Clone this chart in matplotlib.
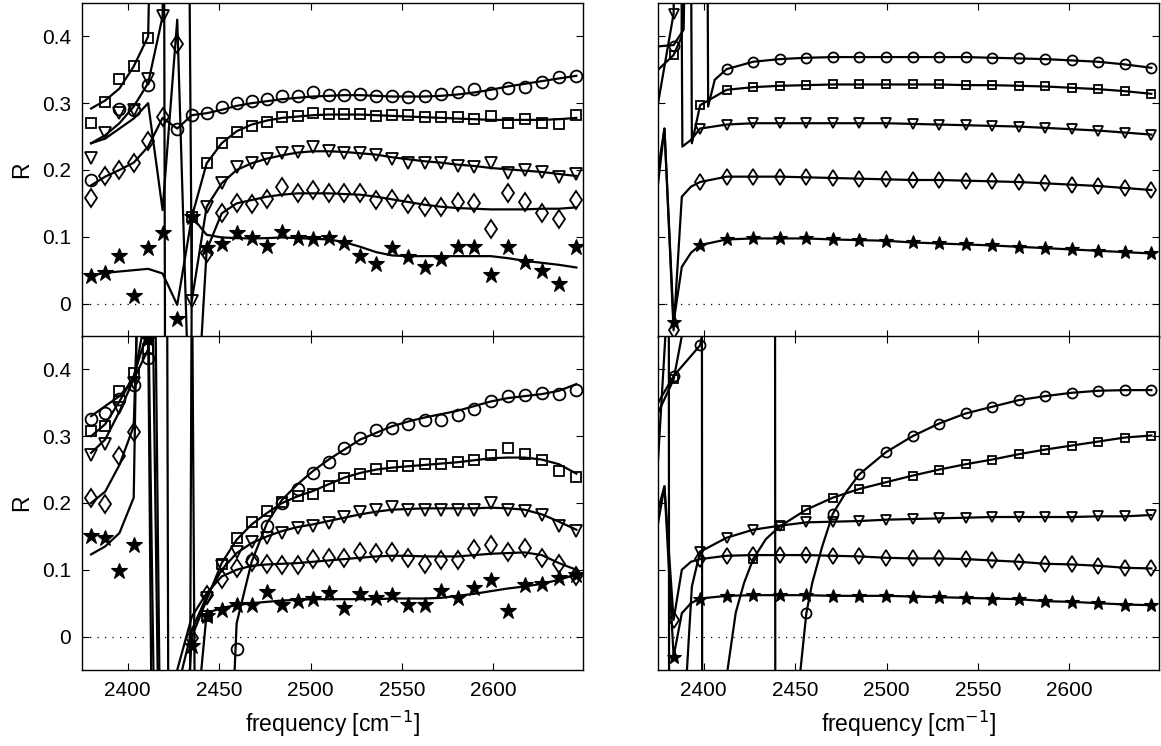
import numpy as np
import matplotlib
matplotlib.use("Agg")
import matplotlib.pyplot as plt

plt.rcParams['font.family'] = ['Liberation Sans', 'DejaVu Sans']
plt.rcParams['font.size'] = 15

nan = np.nan

# ---- left column: measured points (uniform in wavelength) and fitted lines ----
x_left = [2380.0, 2387.7, 2395.5, 2403.3, 2411.2, 2419.1, 2427.1, 2435.1, 2443.2, 2451.4,
          2459.6, 2467.8, 2476.2, 2484.5, 2492.9, 2501.4, 2509.9, 2518.5, 2527.2, 2535.9,
          2544.7, 2553.5, 2562.4, 2571.4, 2580.4, 2589.5, 2598.6, 2607.9, 2617.1, 2626.5,
          2635.9, 2645.4]

# top-left, markers
tl_circ = [0.185, nan, 0.292, 0.29, 0.327, nan, 0.261, 0.283, 0.286, 0.295, 0.301, 0.304, 0.306,
           0.31, 0.311, 0.317, 0.312, 0.312, 0.313, 0.31, 0.31, 0.309, 0.31, 0.313, 0.316, 0.321,
           0.315, 0.322, 0.324, 0.332, 0.339, 0.341]
tl_squa = [0.27, 0.302, 0.336, 0.356, 0.398, nan, nan, 0.129, 0.211, 0.241, 0.257, 0.266, 0.272,
           0.28, 0.281, 0.286, 0.284, 0.284, 0.284, 0.281, 0.283, 0.282, 0.28, 0.28, 0.279, 0.276,
           0.281, 0.27, 0.276, 0.271, 0.269, 0.282]
tl_tria = [0.218, 0.256, 0.285, 0.29, 0.336, 0.43, nan, 0.0035, 0.145, 0.18, 0.205, 0.21, 0.217,
           0.226, 0.227, 0.235, 0.229, 0.226, 0.226, 0.222, 0.216, 0.211, 0.211, 0.21, 0.206,
           0.204, 0.211, 0.196, 0.2, 0.197, 0.189, 0.194]
tl_diam = [0.158, 0.191, 0.20, 0.21, 0.243, 0.279, 0.388, nan, 0.075, 0.135, 0.15, 0.149, 0.156,
           0.175, 0.165, 0.17, 0.166, 0.166, 0.165, 0.155, 0.156, 0.149, 0.145, 0.144, 0.152,
           0.15, 0.111, 0.166, 0.152, 0.135, 0.126, 0.155]
tl_star = [0.041, 0.046, 0.0715, 0.0115, 0.0825, 0.106, -0.0235, 0.129, 0.0825, 0.089, 0.106,
           0.0975, 0.086, 0.107, 0.0975, 0.096, 0.0975, 0.091, 0.071, 0.059, 0.0835, 0.07, 0.055,
           0.066, 0.085, 0.085, 0.0435, 0.085, 0.0625, 0.049, 0.03, 0.085]

# top-left, fitted lines
tl_circ_fit = [0.177, 0.19, 0.20, 0.211, 0.235, 0.278, 0.262, 0.282, 0.285, 0.29, 0.296, 0.300,
               0.303, 0.306, 0.308, 0.310, 0.311, 0.312, 0.312, 0.311, 0.310, 0.310, 0.310, 0.311,
               0.313, 0.316, 0.320, 0.325, 0.329, 0.333, 0.337, 0.341]
tl_squa_fit = [0.292, 0.304, 0.322, 0.355, 0.40, 1.5, -8.0, 0.13, 0.21, 0.24, 0.258, 0.268, 0.274,
               0.278, 0.280, 0.282, 0.283, 0.283, 0.283, 0.282, 0.281, 0.280, 0.279, 0.278, 0.277,
               0.276, 0.275, 0.275, 0.275, 0.275, 0.276, 0.278]
tl_tria_fit = [0.24, 0.252, 0.27, 0.295, 0.33, 0.43, 3.0, 0.005, 0.145, 0.18, 0.20, 0.21, 0.217,
               0.222, 0.226, 0.228, 0.228, 0.227, 0.225, 0.223, 0.219, 0.216, 0.213, 0.211, 0.208,
               0.206, 0.203, 0.201, 0.199, 0.197, 0.194, 0.191]
tl_diam_fit = [0.24, 0.247, 0.262, 0.277, 0.30, 0.14, 0.425, -0.3, 0.08, 0.135, 0.15, 0.155, 0.16,
               0.163, 0.165, 0.165, 0.165, 0.164, 0.163, 0.16, 0.156, 0.152, 0.148, 0.145, 0.143,
               0.142, 0.141, 0.141, 0.141, 0.142, 0.142, 0.144]
tl_star_fit = [0.042, 0.046, 0.048, 0.050, 0.052, 0.045, -0.002, 0.13, 0.103, 0.099, 0.098, 0.0975,
               0.098, 0.099, 0.098, 0.097, 0.096, 0.092, 0.085, 0.077, 0.072, 0.071, 0.071, 0.071,
               0.071, 0.071, 0.071, 0.068, 0.064, 0.061, 0.058, 0.054]

# bottom-left, markers
bl_circ = [0.326, 0.334, 0.355, 0.377, 0.417, nan, nan, nan, nan, nan, -0.018, 0.114, 0.165,
           0.2005, 0.221, 0.245, 0.261, 0.283, 0.297, 0.309, 0.312, 0.318, 0.324, 0.324, 0.332,
           0.341, 0.353, 0.36, 0.362, 0.364, 0.363, 0.369]
bl_squa = [0.308, 0.315, 0.367, 0.395, 0.43, nan, nan, nan, 0.031, 0.108, 0.147, 0.172, 0.188,
           0.2015, 0.21, 0.214, 0.226, 0.238, 0.244, 0.251, 0.255, 0.256, 0.258, 0.258, 0.261,
           0.264, 0.272, 0.282, 0.274, 0.264, 0.248, 0.239]
bl_tria = [0.272, 0.289, 0.342, 0.38, 0.445, nan, nan, nan, 0.058, 0.105, 0.127, 0.141, 0.148,
           0.1555, 0.163, 0.166, 0.17, 0.179, 0.186, 0.19, 0.194, 0.19, 0.189, 0.189, 0.189, 0.19,
           0.2, 0.189, 0.188, 0.182, 0.166, 0.158]
bl_diam = [0.208, 0.198, 0.271, 0.306, nan, nan, nan, -0.002, 0.062, 0.086, 0.102, 0.111, 0.108,
           0.107, 0.107, 0.116, 0.118, 0.118, 0.127, 0.125, 0.127, 0.117, 0.109, 0.114, 0.114,
           0.131, 0.137, 0.127, 0.132, 0.117, 0.108, 0.091]
bl_star = [0.15, 0.148, 0.098, 0.137, 0.445, nan, nan, -0.014, 0.031, 0.04, 0.047, 0.048, 0.067,
           0.048, 0.053, 0.057, 0.065, 0.043, 0.064, 0.058, 0.062, 0.048, 0.047, 0.068, 0.058,
           0.073, 0.085, 0.039, 0.077, 0.078, 0.087, 0.092]

# bottom-left, fitted lines
bl_circ_fit = [0.33, 0.345, 0.36, 0.385, 0.43, 3.0, -5.0, 0.6, -3.0, -0.5, 0.02, 0.112, 0.17,
               0.205, 0.228, 0.248, 0.265, 0.28, 0.295, 0.305, 0.315, 0.322, 0.328, 0.333, 0.338,
               0.345, 0.352, 0.357, 0.36, 0.363, 0.368, 0.378]
bl_squa_fit = [0.30, 0.318, 0.352, 0.39, 0.46, -2.0, -0.35, 0.0, 0.055, 0.11, 0.145, 0.168, 0.185,
               0.2, 0.21, 0.218, 0.228, 0.238, 0.245, 0.25, 0.253, 0.255, 0.257, 0.259, 0.261,
               0.264, 0.267, 0.268, 0.268, 0.265, 0.258, 0.244]
bl_tria_fit = [0.275, 0.295, 0.337, 0.385, 0.5, -1.0, -0.08, 0.01, 0.06, 0.1, 0.125, 0.14, 0.15,
               0.158, 0.164, 0.168, 0.173, 0.178, 0.183, 0.187, 0.19, 0.191, 0.192, 0.192, 0.192,
               0.192, 0.193, 0.192, 0.19, 0.183, 0.172, 0.16]
bl_diam_fit = [0.20, 0.217, 0.257, 0.315, 1.0, -0.6, -0.05, 0.03, 0.065, 0.09, 0.1, 0.106, 0.108,
               0.109, 0.11, 0.112, 0.114, 0.116, 0.118, 0.12, 0.121, 0.121, 0.12, 0.12, 0.12,
               0.122, 0.124, 0.125, 0.126, 0.122, 0.11, 0.1]
bl_star_fit = [0.123, 0.135, 0.155, 0.208, 1.5, -0.5, -0.6, -0.2, 0.035, 0.043, 0.047, 0.05, 0.052,
               0.054, 0.055, 0.056, 0.056, 0.056, 0.056, 0.056, 0.057, 0.057, 0.057, 0.058, 0.061,
               0.064, 0.068, 0.072, 0.075, 0.079, 0.085, 0.093]

# ---- right column: model curves, markers every 14.5 cm^-1 ----
x_right = [2383.5, 2398.0, 2412.5, 2427.0, 2441.6, 2456.1, 2470.6, 2485.1, 2499.6, 2514.2,
           2528.7, 2543.2, 2557.7, 2572.2, 2586.8, 2601.3, 2615.8, 2630.3, 2644.8]

tr_circ = [0.385, nan, 0.351, 0.362, 0.366, 0.368, 0.369, 0.369, 0.369, 0.369, 0.369, 0.369,
           0.368, 0.367, 0.366, 0.364, 0.362, 0.358, 0.353]
tr_squa = [0.372, 0.297, 0.32, 0.324, 0.326, 0.327, 0.328, 0.328, 0.328, 0.328, 0.328, 0.327,
           0.327, 0.326, 0.325, 0.323, 0.321, 0.318, 0.314]
tr_tria = [0.434, 0.262, 0.268, 0.27, 0.27, 0.27, 0.27, 0.27, 0.27, 0.269, 0.268, 0.267, 0.266,
           0.265, 0.263, 0.261, 0.259, 0.256, 0.253]
tr_diam = [-0.04, 0.182, 0.19, 0.19, 0.19, 0.189, 0.188, 0.187, 0.186, 0.185, 0.185, 0.184,
           0.183, 0.182, 0.18, 0.178, 0.176, 0.173, 0.17]
tr_star = [-0.028, 0.0875, 0.096, 0.0975, 0.0975, 0.0975, 0.096, 0.095, 0.094, 0.0915, 0.09,
           0.0885, 0.087, 0.085, 0.083, 0.081, 0.079, 0.077, 0.075]

# resonance part of each top-right curve (before it joins the marker points)
tr_circ_hx = [2375, 2383.5, 2389, 2392, 2401.5, 2402.4, 2406]
tr_circ_hy = [0.385, 0.387, 0.41, 0.9, 0.9, 0.295, 0.335]
tr_squa_hx = [2375, 2383.5, 2388, 2390.5, 2392.5, 2393.5]
tr_squa_hy = [0.35, 0.372, 0.40, 0.9, 0.9, 0.24]
tr_tria_hx = [2375, 2383.5, 2385.5, 2387, 2388.3, 2393]
tr_tria_hy = [0.30, 0.434, 0.9, 0.9, 0.235, 0.245]
tr_diam_hx = [2375, 2378.5, 2383.5, 2388, 2393]
tr_diam_hy = [0.20, 0.262, -0.04, 0.16, 0.175]
tr_star_hx = [2375, 2378.5, 2383.5, 2388, 2393]
tr_star_hy = [0.18, 0.262, -0.028, 0.055, 0.076]

br_circ = [0.39, 0.436, nan, nan, nan, 0.035, 0.184, 0.243, 0.276, 0.3, 0.319, 0.334, 0.344,
           0.354, 0.36, 0.365, 0.368, 0.369, 0.369]
br_squa = [0.385, nan, nan, 0.116, 0.165, 0.19, 0.208, 0.221, 0.231, 0.241, 0.25, 0.258, 0.265,
           0.273, 0.28, 0.286, 0.292, 0.298, 0.301]
br_tria = [nan, 0.127, 0.148, 0.16, 0.166, 0.171, 0.172, 0.173, 0.175, 0.176, 0.177, 0.178,
           0.179, 0.179, 0.179, 0.179, 0.18, 0.18, 0.182]
br_diam = [0.025, 0.116, 0.121, 0.122, 0.122, 0.122, 0.121, 0.12, 0.118, 0.117, 0.117, 0.116,
           0.114, 0.112, 0.109, 0.108, 0.106, 0.103, 0.102]
br_star = [-0.03, 0.057, 0.061, 0.062, 0.062, 0.062, 0.061, 0.061, 0.061, 0.06, 0.059, 0.058,
           0.057, 0.056, 0.053, 0.052, 0.05, 0.048, 0.047]

br_circ_hx = [2375, 2383.5, 2398, 2400.5, 2404, 2438.9, 2439.3, 2446, 2452.9, 2456.1, 2459.3,
              2464.8, 2470.6, 2478]
br_circ_hy = [0.35, 0.39, 0.436, 0.47, 0.9, 0.9, -0.9, -0.4, -0.05, 0.035, 0.08, 0.135, 0.184,
              0.217]
br_squa_hx = [2375, 2383.5, 2388, 2393, 2398.9, 2399.3, 2406, 2410, 2413, 2417.5, 2422, 2427, 2434]
br_squa_hy = [0.335, 0.385, 0.45, 0.7, 0.9, -0.9, -0.5, -0.2, -0.05, 0.036, 0.08, 0.116, 0.146]
br_tria_hx = [2375, 2379, 2380.8, 2381.2, 2386, 2390.8, 2393.5]
br_tria_hy = [0.265, 0.45, 0.9, -0.9, -0.4, -0.05, 0.075]
br_diam_hx = [2375, 2378.5, 2383.5, 2388, 2393]
br_diam_hy = [0.19, 0.225, 0.025, 0.10, 0.112]
br_star_hx = [2375, 2378.5, 2383.5, 2388, 2393]
br_star_hy = [0.17, 0.225, -0.03, 0.035, 0.05]

xticks = [2400, 2450, 2500, 2550, 2600]
yticks = [0, 0.1, 0.2, 0.3, 0.4]
ytick_labels = ['0', '0.1', '0.2', '0.3', '0.4']
xlim = (2375, 2649)
ylim = (-0.05, 0.45)

markers = ['o', 's', 'v', 'd', '*']


def style_axes(ax, show_x, show_y):
    ax.set_xlim(*xlim)
    ax.set_ylim(*ylim)
    ax.set_xticks(xticks)
    ax.set_yticks(yticks)
    ax.tick_params(direction='in', top=True, right=True, length=5, width=0.8,
                   labelsize=15, pad=8)
    if show_y:
        ax.set_yticklabels(ytick_labels)
        ax.set_ylabel('R', fontsize=16.5, labelpad=6)
    else:
        ax.set_yticklabels([])
    if show_x:
        ax.set_xticklabels([str(t) for t in xticks])
        ax.set_xlabel('frequency [cm$^{-1}$]', fontsize=16.5, labelpad=6)
    else:
        ax.set_xticklabels([])
    for s in ax.spines.values():
        s.set_linewidth(1.0)
    ax.plot(xlim, [0, 0], ls=(0, (1, 5)), color='k', lw=0.9)


def draw_marks(ax, x, ys, ms_scale=1.0):
    sizes = {'o': 8.5, 's': 7, 'v': 8.5, 'd': 9.5, '*': 12}
    for m, y in zip(markers, ys):
        if m == '*':
            ax.plot(x, y, ls='none', marker=m, ms=sizes[m] * ms_scale, mfc='k', mec='k', mew=0.8)
        else:
            ax.plot(x, y, ls='none', marker=m, ms=sizes[m] * ms_scale, mfc='none', mec='k',
                    mew=1.3)


fig = plt.figure(figsize=(11.61, 7.46), dpi=100)
w, h = 0.4315, 0.4477
ax_tl = fig.add_axes([0.0706, 0.5483, w, h])
ax_tr = fig.add_axes([0.5668, 0.5483, w, h])
ax_bl = fig.add_axes([0.0706, 0.1019, w, h])
ax_br = fig.add_axes([0.5668, 0.1019, w, h])

# left panels
for ax, fits, marks in [
        (ax_tl, [tl_circ_fit, tl_squa_fit, tl_tria_fit, tl_diam_fit, tl_star_fit],
         [tl_circ, tl_squa, tl_tria, tl_diam, tl_star]),
        (ax_bl, [bl_circ_fit, bl_squa_fit, bl_tria_fit, bl_diam_fit, bl_star_fit],
         [bl_circ, bl_squa, bl_tria, bl_diam, bl_star])]:
    for f in fits:
        ax.plot(x_left, f, color='k', lw=1.6)
    draw_marks(ax, x_left, marks)

# right panels: head (resonance) + marker points form the curve
for ax, heads, marks in [
        (ax_tr, [(tr_circ_hx, tr_circ_hy), (tr_squa_hx, tr_squa_hy), (tr_tria_hx, tr_tria_hy),
                 (tr_diam_hx, tr_diam_hy), (tr_star_hx, tr_star_hy)],
         [tr_circ, tr_squa, tr_tria, tr_diam, tr_star]),
        (ax_br, [(br_circ_hx, br_circ_hy), (br_squa_hx, br_squa_hy), (br_tria_hx, br_tria_hy),
                 (br_diam_hx, br_diam_hy), (br_star_hx, br_star_hy)],
         [br_circ, br_squa, br_tria, br_diam, br_star])]:
    for (hx, hy), mk in zip(heads, marks):
        tail_x = [xv for xv, yv in zip(x_right, mk) if xv > hx[-1] and not np.isnan(yv)]
        tail_y = [yv for xv, yv in zip(x_right, mk) if xv > hx[-1] and not np.isnan(yv)]
        ax.plot(list(hx) + tail_x, list(hy) + tail_y, color='k', lw=1.6)
    draw_marks(ax, x_right, marks, ms_scale=0.85)

style_axes(ax_tl, False, True)
style_axes(ax_tr, False, False)
style_axes(ax_bl, True, True)
style_axes(ax_br, True, False)

fig.savefig('out.png', dpi=100)
